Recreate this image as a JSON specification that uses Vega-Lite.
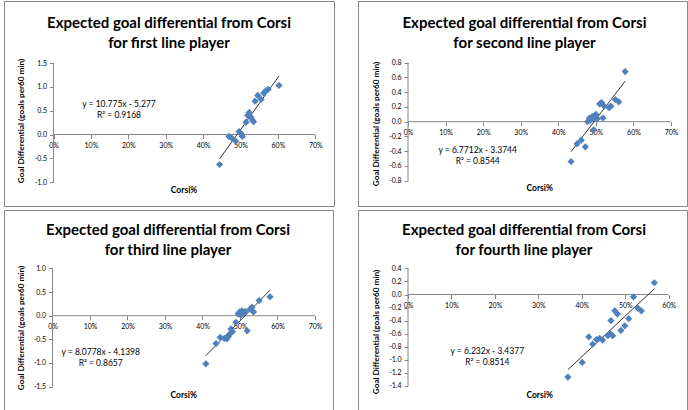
{
  "$schema": "https://vega.github.io/schema/vega-lite/v6.json",
  "padding": {"left": 3, "top": 0, "right": 0, "bottom": 0},
  "background": "white",
  "spacing": 2,
  "config": {
    "view": {"stroke": "#878787", "strokeWidth": 1},
    "axis": {"grid": false, "domain": false, "ticks": true, "tickSize": 4, "tickCount": 20, "tickColor": "#878787", "labelFont": "Lato", "labelFontSize": 7, "labelColor": "#000", "labelPadding": 3, "labelOverlap": false, "labelFlush": false},
    "text": {"font": "Lato", "color": "#000"}
  },
  "datasets": {
    "p1": [
      {"corsi": 0.444, "gd": -0.63}, {"corsi": 0.469, "gd": -0.04}, {"corsi": 0.476, "gd": -0.07}, {"corsi": 0.487, "gd": -0.14},
      {"corsi": 0.496, "gd": 0.06}, {"corsi": 0.501, "gd": 0.02}, {"corsi": 0.505, "gd": -0.04}, {"corsi": 0.515, "gd": 0.26},
      {"corsi": 0.519, "gd": 0.40}, {"corsi": 0.523, "gd": 0.46}, {"corsi": 0.528, "gd": 0.36}, {"corsi": 0.532, "gd": 0.30},
      {"corsi": 0.535, "gd": 0.27}, {"corsi": 0.539, "gd": 0.70}, {"corsi": 0.546, "gd": 0.82}, {"corsi": 0.555, "gd": 0.74},
      {"corsi": 0.562, "gd": 0.87}, {"corsi": 0.568, "gd": 0.92}, {"corsi": 0.574, "gd": 0.95}, {"corsi": 0.603, "gd": 1.03}
    ],
    "p2": [
      {"corsi": 0.434, "gd": -0.54}, {"corsi": 0.450, "gd": -0.30}, {"corsi": 0.461, "gd": -0.25}, {"corsi": 0.472, "gd": -0.34},
      {"corsi": 0.478, "gd": 0.0}, {"corsi": 0.483, "gd": 0.05}, {"corsi": 0.486, "gd": 0.02}, {"corsi": 0.490, "gd": 0.07},
      {"corsi": 0.494, "gd": -0.11}, {"corsi": 0.497, "gd": 0.06}, {"corsi": 0.500, "gd": 0.10}, {"corsi": 0.504, "gd": 0.04},
      {"corsi": 0.510, "gd": 0.24}, {"corsi": 0.515, "gd": 0.26}, {"corsi": 0.519, "gd": 0.05}, {"corsi": 0.522, "gd": 0.21},
      {"corsi": 0.535, "gd": 0.19}, {"corsi": 0.540, "gd": 0.21}, {"corsi": 0.552, "gd": 0.30}, {"corsi": 0.561, "gd": 0.27},
      {"corsi": 0.578, "gd": 0.68}
    ],
    "p3": [
      {"corsi": 0.409, "gd": -1.02}, {"corsi": 0.436, "gd": -0.59}, {"corsi": 0.447, "gd": -0.46}, {"corsi": 0.458, "gd": -0.48},
      {"corsi": 0.465, "gd": -0.49}, {"corsi": 0.469, "gd": -0.44}, {"corsi": 0.473, "gd": -0.38}, {"corsi": 0.476, "gd": -0.28},
      {"corsi": 0.480, "gd": -0.34}, {"corsi": 0.489, "gd": -0.14}, {"corsi": 0.495, "gd": 0.04}, {"corsi": 0.499, "gd": 0.08},
      {"corsi": 0.502, "gd": 0.01}, {"corsi": 0.505, "gd": 0.10}, {"corsi": 0.509, "gd": 0.05}, {"corsi": 0.514, "gd": 0.09},
      {"corsi": 0.519, "gd": -0.32}, {"corsi": 0.527, "gd": 0.14}, {"corsi": 0.532, "gd": 0.18}, {"corsi": 0.536, "gd": 0.08},
      {"corsi": 0.551, "gd": 0.32}, {"corsi": 0.580, "gd": 0.40}
    ],
    "p4": [
      {"corsi": 0.368, "gd": -1.265}, {"corsi": 0.401, "gd": -1.04}, {"corsi": 0.416, "gd": -0.65}, {"corsi": 0.425, "gd": -0.76},
      {"corsi": 0.434, "gd": -0.69}, {"corsi": 0.441, "gd": -0.67}, {"corsi": 0.448, "gd": -0.70}, {"corsi": 0.460, "gd": -0.63},
      {"corsi": 0.466, "gd": -0.60}, {"corsi": 0.471, "gd": -0.63}, {"corsi": 0.467, "gd": -0.40}, {"corsi": 0.476, "gd": -0.25},
      {"corsi": 0.482, "gd": -0.30}, {"corsi": 0.490, "gd": -0.55}, {"corsi": 0.499, "gd": -0.48}, {"corsi": 0.508, "gd": -0.37},
      {"corsi": 0.519, "gd": -0.035}, {"corsi": 0.529, "gd": -0.21}, {"corsi": 0.537, "gd": -0.25}, {"corsi": 0.567, "gd": 0.18}
    ]
  },
  "vconcat": [
    {
      "spacing": 22,
      "hconcat": [
        {
          "width": 330, "height": 205,
          "data": {"name": "p1"},
          "layer": [
            {"data": {"values": [{}]}, "mark": {"type": "rule", "color": "#878787", "strokeWidth": 1},
             "encoding": {"x": {"datum": 0, "type": "quantitative"}, "y": {"datum": -1, "type": "quantitative"}, "y2": {"datum": 1.5}}},
            {"data": {"values": [{}]}, "mark": {"type": "rule", "color": "#878787", "strokeWidth": 1},
             "encoding": {"x": {"datum": 0, "type": "quantitative"}, "x2": {"datum": 0.7}, "y": {"datum": 0, "type": "quantitative"}}},
            {"transform": [{"regression": "gd", "on": "corsi"}], "mark": {"type": "line", "color": "#000", "strokeWidth": 0.8},
             "encoding": {"x": {"field": "corsi", "type": "quantitative"}, "y": {"field": "gd", "type": "quantitative"}}},
            {"mark": {"type": "point", "shape": "diamond", "filled": true, "size": 52, "color": "#4F81BD", "opacity": 1},
             "encoding": {"x": {"field": "corsi", "type": "quantitative", "scale": {"domain": [-0.1324, 0.75], "nice": false, "zero": false}, "axis": {"orient": "bottom", "offset": -71.5, "tickCount": 20, "values": [0, 0.1, 0.2, 0.3, 0.4, 0.5, 0.6, 0.7], "format": ".0%", "title": null, "labelOverlap": false}},
                          "y": {"field": "gd", "type": "quantitative", "scale": {"domain": [-1.502, 2.8046], "nice": false, "zero": false}, "axis": {"orient": "left", "offset": -49.5, "tickCount": 20, "values": [-1, -0.5, 0, 0.5, 1, 1.5], "labelExpr": "replace(format(datum.value, '.1f'), '\u2212', '-')", "title": null, "labelOverlap": false}}}},
            {"data": {"values": [{}]}, "mark": {"type": "text", "fontSize": 15, "fontWeight": "bold", "lineHeight": 20, "align": "center", "baseline": "middle"},
             "encoding": {"x": {"datum": 0.3088, "type": "quantitative"}, "y": {"datum": 2.336, "type": "quantitative"},
                          "text": {"value": ["Expected goal differential from Corsi", "for first line player"]}}},
            {"data": {"values": [{}]}, "mark": {"type": "text", "fontSize": 8.5, "lineHeight": 11, "align": "center", "baseline": "middle"},
             "encoding": {"x": {"datum": 0.1751, "type": "quantitative"}, "y": {"datum": 0.641, "type": "quantitative"},
                          "text": {"value": ["y = 10.775x - 5.277", "R² = 0.9168"]}}},
            {"data": {"values": [{}]}, "mark": {"type": "text", "fontSize": 8.2, "fontWeight": "bold", "angle": 270, "align": "center", "baseline": "middle"},
             "encoding": {"x": {"datum": -0.085, "type": "quantitative"}, "y": {"datum": 0.284, "type": "quantitative"},
                          "text": {"value": "Goal Differential (goals  per60 min)"}}},
            {"data": {"values": [{}]}, "mark": {"type": "text", "fontSize": 8.5, "fontWeight": "bold", "align": "center", "baseline": "middle"},
             "encoding": {"x": {"datum": 0.349, "type": "quantitative"}, "y": {"datum": -1.166, "type": "quantitative"},
                          "text": {"value": "Corsi%"}}}
          ]
        },
        {
          "width": 329, "height": 205,
          "data": {"name": "p2"},
          "layer": [
            {"data": {"values": [{}]}, "mark": {"type": "rule", "color": "#878787", "strokeWidth": 1},
             "encoding": {"x": {"datum": 0, "type": "quantitative"}, "y": {"datum": -0.8, "type": "quantitative"}, "y2": {"datum": 0.8}}},
            {"data": {"values": [{}]}, "mark": {"type": "rule", "color": "#878787", "strokeWidth": 1},
             "encoding": {"x": {"datum": 0, "type": "quantitative"}, "x2": {"datum": 0.7}, "y": {"datum": 0, "type": "quantitative"}}},
            {"transform": [{"regression": "gd", "on": "corsi"}], "mark": {"type": "line", "color": "#000", "strokeWidth": 0.8},
             "encoding": {"x": {"field": "corsi", "type": "quantitative"}, "y": {"field": "gd", "type": "quantitative"}}},
            {"mark": {"type": "point", "shape": "diamond", "filled": true, "size": 52, "color": "#4F81BD", "opacity": 1},
             "encoding": {"x": {"field": "corsi", "type": "quantitative", "scale": {"domain": [-0.1331, 0.7426], "nice": false, "zero": false}, "axis": {"orient": "bottom", "offset": -84.3, "tickCount": 20, "values": [0, 0.1, 0.2, 0.3, 0.4, 0.5, 0.6, 0.7], "format": ".0%", "title": null, "labelOverlap": false}},
                          "y": {"field": "gd", "type": "quantitative", "scale": {"domain": [-1.143, 1.6366], "nice": false, "zero": false}, "axis": {"orient": "left", "offset": -50, "tickCount": 20, "values": [-0.8, -0.6, -0.4, -0.2, 0, 0.2, 0.4, 0.6, 0.8], "labelExpr": "replace(format(datum.value, '.1f'), '\u2212', '-')", "title": null, "labelOverlap": false}}}},
            {"data": {"values": [{}]}, "mark": {"type": "text", "fontSize": 15, "fontWeight": "bold", "lineHeight": 20, "align": "center", "baseline": "middle"},
             "encoding": {"x": {"datum": 0.310, "type": "quantitative"}, "y": {"datum": 1.334, "type": "quantitative"},
                          "text": {"value": ["Expected goal differential from Corsi", "for second line player"]}}},
            {"data": {"values": [{}]}, "mark": {"type": "text", "fontSize": 8.5, "lineHeight": 11, "align": "center", "baseline": "middle"},
             "encoding": {"x": {"datum": 0.1855, "type": "quantitative"}, "y": {"datum": -0.384, "type": "quantitative"},
                          "text": {"value": ["y = 6.7712x - 3.3744", "R² = 0.8544"]}}},
            {"data": {"values": [{}]}, "mark": {"type": "text", "fontSize": 8.2, "fontWeight": "bold", "angle": 270, "align": "center", "baseline": "middle"},
             "encoding": {"x": {"datum": -0.0825, "type": "quantitative"}, "y": {"datum": -0.031, "type": "quantitative"},
                          "text": {"value": "Goal Differential (goals  per60 min)"}}},
            {"data": {"values": [{}]}, "mark": {"type": "text", "fontSize": 8.5, "fontWeight": "bold", "align": "center", "baseline": "middle"},
             "encoding": {"x": {"datum": 0.3505, "type": "quantitative"}, "y": {"datum": -0.903, "type": "quantitative"},
                          "text": {"value": "Corsi%"}}}
          ]
        }
      ]
    },
    {
      "spacing": 23,
      "hconcat": [
        {
          "width": 329, "height": 201,
          "data": {"name": "p3"},
          "layer": [
            {"data": {"values": [{}]}, "mark": {"type": "rule", "color": "#878787", "strokeWidth": 1},
             "encoding": {"x": {"datum": 0, "type": "quantitative"}, "y": {"datum": -1.5, "type": "quantitative"}, "y2": {"datum": 1.0}}},
            {"data": {"values": [{}]}, "mark": {"type": "rule", "color": "#878787", "strokeWidth": 1},
             "encoding": {"x": {"datum": 0, "type": "quantitative"}, "x2": {"datum": 0.7}, "y": {"datum": 0, "type": "quantitative"}}},
            {"transform": [{"regression": "gd", "on": "corsi"}], "mark": {"type": "line", "color": "#000", "strokeWidth": 0.8},
             "encoding": {"x": {"field": "corsi", "type": "quantitative"}, "y": {"field": "gd", "type": "quantitative"}}},
            {"mark": {"type": "point", "shape": "diamond", "filled": true, "size": 52, "color": "#4F81BD", "opacity": 1},
             "encoding": {"x": {"field": "corsi", "type": "quantitative", "scale": {"domain": [-0.1293, 0.748], "nice": false, "zero": false}, "axis": {"orient": "bottom", "offset": -95.3, "tickCount": 20, "values": [0, 0.1, 0.2, 0.3, 0.4, 0.5, 0.6, 0.7], "format": ".0%", "title": null, "labelOverlap": false}},
                          "y": {"field": "gd", "type": "quantitative", "scale": {"domain": [-2.019, 2.239], "nice": false, "zero": false}, "axis": {"orient": "left", "offset": -48.5, "tickCount": 20, "values": [-1.5, -1, -0.5, 0, 0.5, 1], "labelExpr": "replace(format(datum.value, '.1f'), '\u2212', '-')", "title": null, "labelOverlap": false}}}},
            {"data": {"values": [{}]}, "mark": {"type": "text", "fontSize": 15, "fontWeight": "bold", "lineHeight": 20, "align": "center", "baseline": "middle"},
             "encoding": {"x": {"datum": 0.308, "type": "quantitative"}, "y": {"datum": 1.822, "type": "quantitative"},
                          "text": {"value": ["Expected goal differential from Corsi", "for third line player"]}}},
            {"data": {"values": [{}]}, "mark": {"type": "text", "fontSize": 8.5, "lineHeight": 11, "align": "center", "baseline": "middle"},
             "encoding": {"x": {"datum": 0.1285, "type": "quantitative"}, "y": {"datum": -0.769, "type": "quantitative"},
                          "text": {"value": ["y = 8.0778x - 4.1398", "R² = 0.8657"]}}},
            {"data": {"values": [{}]}, "mark": {"type": "text", "fontSize": 8.2, "fontWeight": "bold", "angle": 270, "align": "center", "baseline": "middle"},
             "encoding": {"x": {"datum": -0.0821, "type": "quantitative"}, "y": {"datum": -0.261, "type": "quantitative"},
                          "text": {"value": "Goal Differential (goals  per60 min)"}}},
            {"data": {"values": [{}]}, "mark": {"type": "text", "fontSize": 8.5, "fontWeight": "bold", "align": "center", "baseline": "middle"},
             "encoding": {"x": {"datum": 0.350, "type": "quantitative"}, "y": {"datum": -1.674, "type": "quantitative"},
                          "text": {"value": "Corsi%"}}}
          ]
        },
        {
          "width": 329, "height": 201,
          "data": {"name": "p4"},
          "layer": [
            {"data": {"values": [{}]}, "mark": {"type": "rule", "color": "#878787", "strokeWidth": 1},
             "encoding": {"x": {"datum": 0, "type": "quantitative"}, "y": {"datum": -1.4, "type": "quantitative"}, "y2": {"datum": 0.4}}},
            {"data": {"values": [{}]}, "mark": {"type": "rule", "color": "#878787", "strokeWidth": 1},
             "encoding": {"x": {"datum": 0, "type": "quantitative"}, "x2": {"datum": 0.6}, "y": {"datum": 0, "type": "quantitative"}}},
            {"transform": [{"regression": "gd", "on": "corsi"}], "mark": {"type": "line", "color": "#000", "strokeWidth": 0.8},
             "encoding": {"x": {"field": "corsi", "type": "quantitative"}, "y": {"field": "gd", "type": "quantitative"}}},
            {"mark": {"type": "point", "shape": "diamond", "filled": true, "size": 52, "color": "#4F81BD", "opacity": 1},
             "encoding": {"x": {"field": "corsi", "type": "quantitative", "scale": {"domain": [-0.1151, 0.6421], "nice": false, "zero": false}, "axis": {"orient": "bottom", "offset": -116.5, "tickCount": 20, "values": [0, 0.1, 0.2, 0.3, 0.4, 0.5, 0.6], "format": ".0%", "title": null, "labelOverlap": false}},
                          "y": {"field": "gd", "type": "quantitative", "scale": {"domain": [-1.784, 1.294], "nice": false, "zero": false}, "axis": {"orient": "left", "offset": -50, "tickCount": 20, "values": [-1.4, -1.2, -1.0, -0.8, -0.6, -0.4, -0.2, 0, 0.2, 0.4], "labelExpr": "replace(format(datum.value, '.1f'), '\u2212', '-')", "title": null, "labelOverlap": false}}}},
            {"data": {"values": [{}]}, "mark": {"type": "text", "fontSize": 15, "fontWeight": "bold", "lineHeight": 20, "align": "center", "baseline": "middle"},
             "encoding": {"x": {"datum": 0.267, "type": "quantitative"}, "y": {"datum": 0.992, "type": "quantitative"},
                          "text": {"value": ["Expected goal differential from Corsi", "for fourth line player"]}}},
            {"data": {"values": [{}]}, "mark": {"type": "text", "fontSize": 8.5, "lineHeight": 11, "align": "center", "baseline": "middle"},
             "encoding": {"x": {"datum": 0.1825, "type": "quantitative"}, "y": {"datum": -0.861, "type": "quantitative"},
                          "text": {"value": ["y = 6.232x - 3.4377", "R² = 0.8514"]}}},
            {"data": {"values": [{}]}, "mark": {"type": "text", "fontSize": 8.2, "fontWeight": "bold", "angle": 270, "align": "center", "baseline": "middle"},
             "encoding": {"x": {"datum": -0.0713, "type": "quantitative"}, "y": {"datum": -0.574, "type": "quantitative"},
                          "text": {"value": "Goal Differential (goals  per60 min)"}}},
            {"data": {"values": [{}]}, "mark": {"type": "text", "fontSize": 8.5, "fontWeight": "bold", "align": "center", "baseline": "middle"},
             "encoding": {"x": {"datum": 0.303, "type": "quantitative"}, "y": {"datum": -1.534, "type": "quantitative"},
                          "text": {"value": "Corsi%"}}}
          ]
        }
      ]
    }
  ]
}
